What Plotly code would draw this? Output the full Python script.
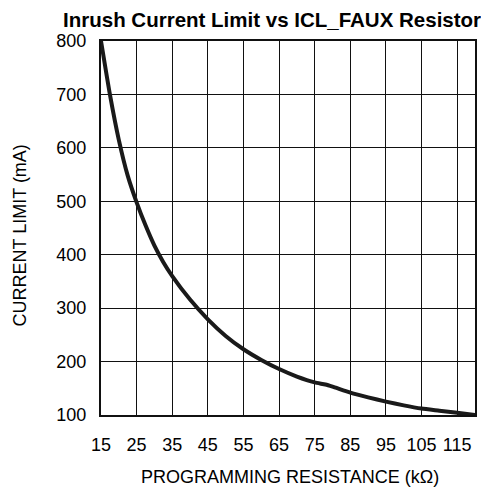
import plotly.graph_objects as go

resistance_kohm = [15, 17.5, 20, 22.5, 25, 27.5, 30, 32.5, 35, 40, 45, 50, 55, 60, 65, 70, 75, 78, 80, 85, 90, 95, 100, 105, 110, 115, 120]
current_ma = [800, 700, 615, 548, 498, 455, 417, 386, 360, 316, 279, 248, 223, 203, 186, 172, 161, 157, 153, 142, 133, 125, 118, 112, 108, 104, 100]

x_ticks = [15, 25, 35, 45, 55, 65, 75, 85, 95, 105, 115]
y_ticks = [100, 200, 300, 400, 500, 600, 700, 800]

title_text = "Inrush Current Limit vs ICL_FAUX Resistor"
x_title = "PROGRAMMING RESISTANCE (kΩ)"
y_title = "CURRENT LIMIT (mA)"

fig = go.Figure()
fig.add_trace(go.Scatter(
    x=resistance_kohm, y=current_ma, mode="lines",
    line=dict(color="#1a1a1a", width=4, shape="spline", smoothing=0.5),
    hoverinfo="skip", showlegend=False,
))

font = "Liberation Sans, Arial, sans-serif"
fig.update_layout(
    width=489, height=490,
    margin=dict(l=93, r=22, t=33, b=83),
    paper_bgcolor="white", plot_bgcolor="white",
    title=dict(text="<b>" + title_text + "</b>",
               x=0.54, xanchor="center", y=0.975, yanchor="middle",
               font=dict(family=font, size=20.5, color="black")),
    font=dict(family=font, size=18, color="black"),
    annotations=[
        dict(text=x_title, xref="paper", yref="paper", x=0.505, y=-0.166,
             xanchor="center", yanchor="middle", showarrow=False,
             font=dict(family=font, size=18, color="black")),
        dict(text=y_title, xref="paper", yref="paper", x=-0.2166, y=0.48,
             xanchor="center", yanchor="middle", showarrow=False, textangle=-90,
             font=dict(family=font, size=18, color="black")),
    ],
)
fig.update_xaxes(
    range=[15, 120], tickmode="array", tickvals=x_ticks,
    ticktext=[str(v) for v in x_ticks],
    showgrid=True, gridcolor="#111111", gridwidth=1.3,
    showline=True, linecolor="#111111", linewidth=2, mirror=True,
    zeroline=False, ticks="outside", ticklen=12, tickcolor="rgba(0,0,0,0)",
    tickfont=dict(family=font, size=18, color="black"),
)
fig.update_yaxes(
    range=[100, 800], tickmode="array", tickvals=y_ticks,
    showgrid=True, gridcolor="#111111", gridwidth=1.3,
    showline=True, linecolor="#111111", linewidth=2, mirror=True,
    zeroline=False, ticks="outside", ticklen=9, tickcolor="rgba(0,0,0,0)",
    tickfont=dict(family=font, size=18, color="black"),
)

fig.write_html("out.html")
